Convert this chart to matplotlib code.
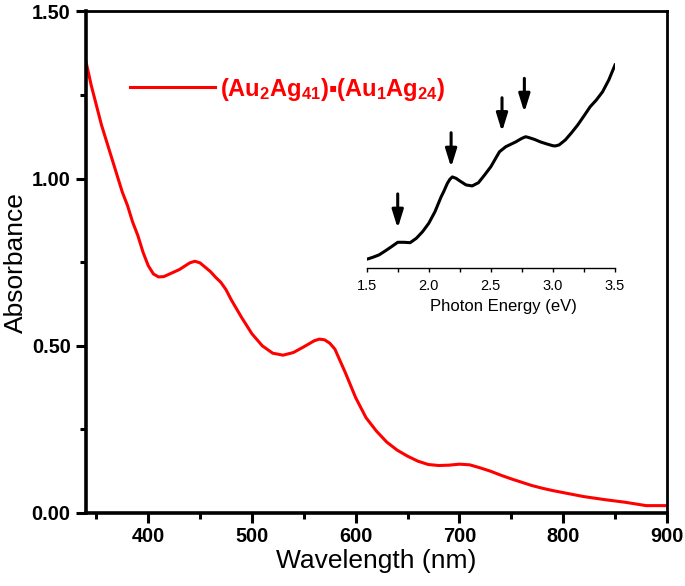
import numpy as np
import matplotlib
matplotlib.use('Agg')
import matplotlib.pyplot as plt
from matplotlib.ticker import MultipleLocator, FormatStrFormatter

# ================= DATA =================
wavelength = [340, 345, 350, 355, 360, 365, 370, 375, 380, 385, 390, 395, 400, 405,
              410, 415, 420, 430, 440, 445, 450, 460, 465, 470, 475, 480, 490, 500,
              510, 520, 530, 540, 550, 560, 565, 570, 575, 580, 590, 600, 610, 620,
              630, 640, 650, 660, 670, 680, 690, 700, 710, 720, 730, 740, 750, 760,
              770, 780, 790, 800, 820, 840, 860, 880, 900]
absorbance = [1.35, 1.28, 1.22, 1.16, 1.11, 1.06, 1.01, 0.96, 0.92, 0.87, 0.83, 0.78,
              0.74, 0.715, 0.706, 0.707, 0.714, 0.728, 0.748, 0.753, 0.748, 0.722,
              0.705, 0.690, 0.668, 0.638, 0.585, 0.536, 0.500, 0.478, 0.472, 0.480,
              0.497, 0.515, 0.520, 0.518, 0.508, 0.490, 0.420, 0.345, 0.285, 0.245,
              0.212, 0.188, 0.170, 0.155, 0.145, 0.142, 0.143, 0.146, 0.144, 0.135,
              0.125, 0.113, 0.102, 0.092, 0.082, 0.074, 0.067, 0.061, 0.049, 0.040,
              0.032, 0.022, 0.022]

energy = [1.50, 1.55, 1.60, 1.65, 1.70, 1.75, 1.80, 1.85, 1.90, 1.95, 2.00, 2.05,
          2.10, 2.12, 2.15, 2.17, 2.19, 2.22, 2.25, 2.30, 2.35, 2.40, 2.45, 2.50,
          2.55, 2.57, 2.60, 2.62, 2.65, 2.70, 2.75, 2.78, 2.80, 2.85, 2.90, 2.95,
          3.00, 3.02, 3.05, 3.10, 3.15, 3.20, 3.25, 3.30, 3.35, 3.40, 3.45, 3.50]
energy_abs = [0.045, 0.055, 0.067, 0.087, 0.108, 0.130, 0.130, 0.128, 0.150, 0.183,
              0.225, 0.283, 0.358, 0.383, 0.425, 0.445, 0.457, 0.450, 0.437, 0.417,
              0.412, 0.428, 0.467, 0.508, 0.562, 0.583, 0.598, 0.608, 0.617, 0.632,
              0.650, 0.658, 0.655, 0.645, 0.632, 0.622, 0.613, 0.612, 0.617, 0.642,
              0.678, 0.717, 0.762, 0.808, 0.842, 0.883, 0.942, 1.017]

arrow_E = [1.75, 2.18, 2.59, 2.77]
arrow_tip = [0.200, 0.505, 0.683, 0.780]
arrow_tail = [0.372, 0.678, 0.853, 0.950]

label = '(Au$_2$Ag$_{41}$)\u25aa(Au$_1$Ag$_{24}$)'

# ================= FONTS =================
plt.rcParams['font.family'] = ['Liberation Sans', 'DejaVu Sans']
plt.rcParams['mathtext.fontset'] = 'custom'
plt.rcParams['mathtext.rm'] = 'Liberation Sans:bold'
plt.rcParams['mathtext.it'] = 'Liberation Sans:bold'
plt.rcParams['mathtext.bf'] = 'Liberation Sans:bold'
plt.rcParams['mathtext.default'] = 'rm'

# ================= FIGURE =================
fig = plt.figure(figsize=(6.85, 5.86), dpi=100)
ax = fig.add_axes([0.1255, 0.1246, 0.848, 0.8558])

ax.plot(wavelength, absorbance, color='#ff0000', lw=2.2, label=label,
        solid_joinstyle='round')

ax.set_xlim(340, 900)
ax.set_ylim(0, 1.5)
ax.xaxis.set_major_locator(MultipleLocator(100))
ax.xaxis.set_minor_locator(MultipleLocator(50))
ax.yaxis.set_major_locator(MultipleLocator(0.5))
ax.yaxis.set_minor_locator(MultipleLocator(0.25))
ax.yaxis.set_major_formatter(FormatStrFormatter('%.2f'))

ax.spines['left'].set_linewidth(2.6)
ax.spines['bottom'].set_linewidth(2.6)
ax.spines['top'].set_linewidth(2.0)
ax.spines['right'].set_linewidth(2.0)
ax.tick_params(which='major', direction='out', length=7, width=2.2)
ax.tick_params(which='minor', direction='out', length=4, width=2.2)
ax.tick_params(axis='x', pad=3)
ax.tick_params(axis='y', pad=4)
for t in ax.get_xticklabels() + ax.get_yticklabels():
    t.set_fontweight('bold')
    t.set_fontsize(14.3)

ax.set_xlabel('Wavelength (nm)', fontsize=19, labelpad=2)
ax.set_ylabel('Absorbance', fontsize=19, labelpad=3)

leg = ax.legend(loc='center left', bbox_to_anchor=(0.075, 0.845), frameon=False,
                borderpad=0, borderaxespad=0, handlelength=3.6, handletextpad=0.25,
                prop={'weight': 'bold', 'size': 17}, labelcolor='#ff0000')

# ================= INSET =================
ins = fig.add_axes([0.5353, 0.5422, 0.3625, 0.3725])
ins.plot(energy, energy_abs, color='black', lw=2.2, solid_joinstyle='round')
for e, tip, tail in zip(arrow_E, arrow_tip, arrow_tail):
    ins.annotate('', xy=(e, tip), xytext=(e, tail),
                 arrowprops=dict(arrowstyle='-|>,head_length=0.9,head_width=0.28',
                                 mutation_scale=12, color='black', lw=2.2,
                                 shrinkA=0, shrinkB=0))
ins.set_xlim(1.5, 3.5)
ins.set_ylim(0, 1.092)
ins.patch.set_alpha(0)
for side in ['left', 'right', 'top']:
    ins.spines[side].set_visible(False)
ins.spines['bottom'].set_linewidth(1)
ins.set_yticks([])
ins.xaxis.set_major_locator(MultipleLocator(0.5))
ins.xaxis.set_minor_locator(MultipleLocator(0.25))
ins.xaxis.set_major_formatter(FormatStrFormatter('%.1f'))
ins.tick_params(axis='x', which='both', direction='out', length=3, width=1,
                labelsize=10.5, pad=5)
ins.set_xlabel('Photon Energy (eV)', fontsize=12, labelpad=4, x=0.55)

fig.savefig('out.png', dpi=100)
